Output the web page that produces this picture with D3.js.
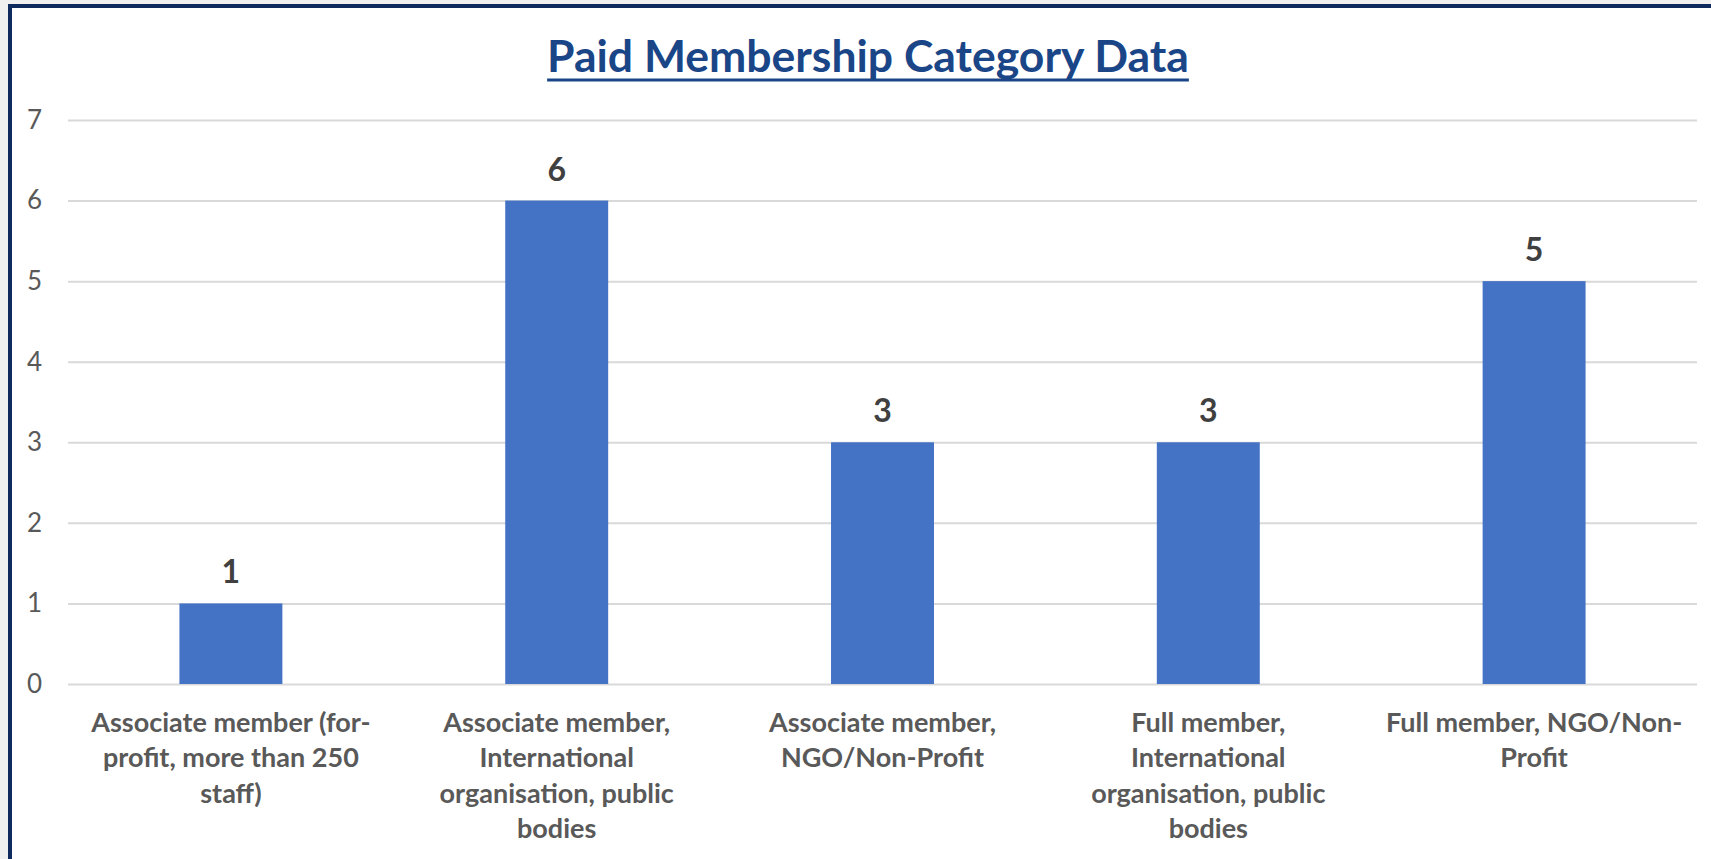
<!DOCTYPE html>
<html>
<head>
<meta charset="utf-8">
<script src="https://cdn.jsdelivr.net/npm/d3@7"></script>
<style>
	body { margin: 0; background: #f0f0f0; }
	svg { display: block; }
</style>
</head>
<body>
<script>
// chart data
var categories = [
	"Associate member (for-profit, more than 250 staff)",
	"Associate member, International organisation, public bodies",
	"Associate member, NGO/Non-Profit",
	"Full member, International organisation, public bodies",
	"Full member, NGO/Non-Profit"
];
var categoryLines = [
	["Associate member (for-", "profit, more than 250", "staff)"],
	["Associate member,", "International", "organisation, public", "bodies"],
	["Associate member,", "NGO/Non-Profit"],
	["Full member,", "International", "organisation, public", "bodies"],
	["Full member, NGO/Non-", "Profit"]
];
var members = [1, 6, 3, 3, 5];
var yTicks = [0, 1, 2, 3, 4, 5, 6, 7];
var title = "Paid Membership Category Data";

function main(){
	var w = 1711;
	var h = 859;
	var left = 68, right = 1697, top = 120, bottom = 684;

	var svg = d3.select("body")
				.append("svg")
				.attr("width", w)
				.attr("height", h);

	// chart area with dark frame
	svg.append("rect")
			.attr("x", 10)
			.attr("y", 6)
			.attr("width", w + 20)
			.attr("height", h + 20)
			.attr("fill", "white")
			.attr("stroke", "#0f2a5c")
			.attr("stroke-width", 4);

	var xScale = d3.scaleBand()
					.domain(categories)
					.range([left, right])
					.paddingInner(0.684)
					.paddingOuter(0.342);

	var yScale = d3.scaleLinear()
					.domain([0, 7])
					.range([bottom, top]);

	var yAxis = d3.axisLeft(yScale)
					.tickValues(yTicks)
					.tickSize(-(right - left))
					.tickPadding(26)
					.tickFormat(d3.format("d"));

	var gy = svg.append("g")
			.attr("class", "yaxis")
			.attr("transform", "translate(" + left + ",0)")
			.call(yAxis);
	gy.select(".domain").remove();
	gy.selectAll(".tick line")
			.attr("stroke", "#d9d9d9")
			.attr("stroke-width", 2);
	gy.selectAll(".tick text")
			.attr("fill", "#595959")
			.attr("font-family", "Lato, 'Open Sans', sans-serif")
			.attr("font-size", 26);

	svg.selectAll(".bar")
			.data(members)
			.enter()
			.append("rect")
			.attr("class", "bar")
			.attr("x", function(d, i){ return xScale(categories[i]); })
			.attr("y", function(d){ return yScale(d); })
			.attr("width", xScale.bandwidth())
			.attr("height", function(d){ return yScale(0) - yScale(d); })
			.attr("fill", "#4472c4");

	svg.selectAll(".value")
			.data(members)
			.enter()
			.append("text")
			.attr("class", "value")
			.attr("x", function(d, i){ return xScale(categories[i]) + xScale.bandwidth() / 2; })
			.attr("y", function(d){ return yScale(d) - 20; })
			.attr("text-anchor", "middle")
			.attr("font-family", "Lato, 'Open Sans', sans-serif")
			.attr("font-weight", "bold")
			.attr("font-size", 32)
			.attr("fill", "#404040")
			.text(function(d){ return d; });

	// category labels, wrapped as in the original
	var xl = svg.selectAll(".xlabel")
			.data(categoryLines)
			.enter()
			.append("text")
			.attr("class", "xlabel")
			.attr("text-anchor", "middle")
			.attr("font-family", "Lato, 'Open Sans', sans-serif")
			.attr("font-weight", "bold")
			.attr("font-size", 27)
			.attr("fill", "#595959");
	xl.each(function(lines, i){
		var cx = xScale(categories[i]) + xScale.bandwidth() / 2;
		d3.select(this).selectAll("tspan")
			.data(lines)
			.enter()
			.append("tspan")
			.attr("x", cx)
			.attr("y", function(d, j){ return bottom + 48 + j * 35.3; })
			.text(function(d){ return d; });
	});

	var t = svg.append("text")
			.attr("x", 868)
			.attr("y", 72)
			.attr("text-anchor", "middle")
			.attr("font-family", "Lato, 'Open Sans', sans-serif")
			.attr("font-weight", "bold")
			.attr("font-size", 44.5)
			.attr("fill", "#1a4688")
			.text(title);
	var bb = t.node().getBBox();
	svg.append("line")
			.attr("x1", bb.x)
			.attr("x2", bb.x + bb.width)
			.attr("y1", 80)
			.attr("y2", 80)
			.attr("stroke", "#1a4688")
			.attr("stroke-width", 3);
}

main();
</script>
</body>
</html>
